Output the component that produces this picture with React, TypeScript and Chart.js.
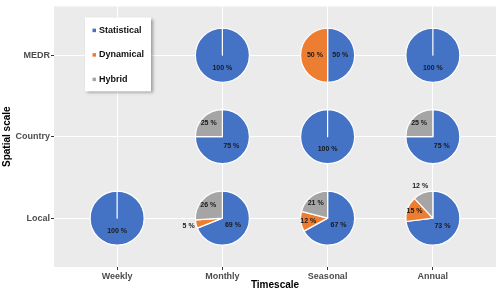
import React, { useEffect, useRef } from 'react';
import { Chart, registerables } from 'chart.js';
Chart.register(...registerables);

const timescales = ['Weekly', 'Monthly', 'Seasonal', 'Annual'];
const spatialScales = ['MEDR', 'Country', 'Local'];
const seriesNames = ['Statistical', 'Dynamical', 'Hybrid'];
const seriesColors = ['#4472C4', '#ED7D31', '#A5A5A5'];

const cellTimescale = ['Monthly', 'Seasonal', 'Annual', 'Monthly', 'Seasonal', 'Annual', 'Weekly', 'Monthly', 'Seasonal', 'Annual'];
const cellSpatial = ['MEDR', 'MEDR', 'MEDR', 'Country', 'Country', 'Country', 'Local', 'Local', 'Local', 'Local'];
const statistical = [100, 50, 100, 75, 100, 75, 100, 69, 67, 73];
const dynamical = [0, 50, 0, 0, 0, 0, 0, 5, 12, 15];
const hybrid = [0, 0, 0, 25, 0, 25, 0, 26, 21, 12];

// labels drawn outside the pie (Excel "best fit" placement)
const outsideLabels = ['Local|Monthly|Dynamical', 'Local|Annual|Hybrid'];

const FONT = '"Liberation Sans", Arial, sans-serif';
const PIE_R = 27;

const piePlugin = {
  id: 'pies',
  beforeDraw(chart: any) {
    const { ctx, chartArea } = chart;
    ctx.save();
    ctx.fillStyle = '#EBEBEB';
    ctx.fillRect(chartArea.left, chartArea.top, chartArea.right - chartArea.left, chartArea.bottom - chartArea.top);
    ctx.restore();
  },
  afterDatasetsDraw(chart: any) {
    const { ctx, scales, chartArea } = chart;
    const series = [statistical, dynamical, hybrid];
    ctx.save();
    for (let i = 0; i < cellTimescale.length; i++) {
      const cx = scales.x.getPixelForValue(timescales.indexOf(cellTimescale[i]) + 1);
      const cy = scales.y.getPixelForValue(spatialScales.indexOf(cellSpatial[i]) + 1);
      const total = series.reduce((s, arr) => s + arr[i], 0);
      let start = -Math.PI / 2;
      const labels: any[] = [];
      for (let s = 0; s < series.length; s++) {
        const v = series[s][i];
        if (!v) continue;
        const frac = v / total;
        const end = start + frac * Math.PI * 2;
        ctx.beginPath();
        ctx.moveTo(cx, cy);
        ctx.arc(cx, cy, PIE_R, start, end);
        ctx.closePath();
        ctx.fillStyle = seriesColors[s];
        ctx.fill();
        ctx.strokeStyle = '#FFFFFF';
        ctx.lineWidth = 1.2;
        ctx.lineJoin = 'round';
        ctx.stroke();
        const mid = (start + end) / 2;
        const key = cellSpatial[i] + '|' + cellTimescale[i] + '|' + seriesNames[s];
        let lr = frac >= 0.5 ? 0.47 : 0.72;
        if (outsideLabels.includes(key)) lr = 1.28;
        labels.push({ x: cx + Math.cos(mid) * PIE_R * lr, y: cy + Math.sin(mid) * PIE_R * lr, t: v + ' %' });
        start = end;
      }
      ctx.fillStyle = '#1A1A1A';
      ctx.font = 'bold 7px ' + FONT;
      ctx.textAlign = 'center';
      ctx.textBaseline = 'middle';
      labels.forEach((l) => ctx.fillText(l.t, l.x, l.y));
    }
    // legend
    const lx = chartArea.left + 31;
    const ly = chartArea.top + 11;
    const lw = 66;
    const lh = 74;
    ctx.save();
    ctx.shadowColor = 'rgba(0,0,0,0.35)';
    ctx.shadowBlur = 3;
    ctx.shadowOffsetX = 2;
    ctx.shadowOffsetY = 2;
    ctx.fillStyle = '#FFFFFF';
    ctx.fillRect(lx, ly, lw, lh);
    ctx.restore();
    ctx.font = 'bold 9px ' + FONT;
    ctx.textAlign = 'left';
    ctx.textBaseline = 'middle';
    seriesNames.forEach((n, k) => {
      const yy = ly + 13 + k * 24.5;
      ctx.fillStyle = seriesColors[k];
      ctx.fillRect(lx + 7.5, yy - 1.75, 3.5, 3.5);
      ctx.fillStyle = '#111111';
      ctx.fillText(n, lx + 14, yy);
    });
    ctx.restore();
  },
};

export default function App() {
  const ref = useRef<HTMLCanvasElement>(null);
  useEffect(() => {
    const points = cellTimescale.map((t, i) => ({
      x: timescales.indexOf(t) + 1,
      y: spatialScales.indexOf(cellSpatial[i]) + 1,
    }));
    const chart = new Chart(ref.current as HTMLCanvasElement, {
      type: 'scatter',
      data: { datasets: [{ label: 'cells', data: points, pointRadius: 0, pointHoverRadius: 0 }] },
      options: {
        responsive: false,
        animation: false,
        events: [],
        layout: { padding: { top: 4, right: 4, left: 0, bottom: 0 } },
        plugins: { legend: { display: false }, tooltip: { enabled: false } },
        scales: {
          x: {
            type: 'linear',
            min: 0.4,
            max: 4.6,
            afterBuildTicks: (s: any) => { s.ticks = timescales.map((_, i) => ({ value: i + 1 })); },
            afterFit: (s: any) => { s.height = 26; },
            ticks: {
              callback: (v: any) => timescales[v - 1],
              autoSkip: false,
              maxRotation: 0,
              padding: 1,
              color: '#4D4D4D',
              font: { family: FONT, size: 9, weight: 'bold' },
            },
            grid: { color: '#FFFFFF', lineWidth: 1, tickLength: 3, tickColor: '#333333', tickWidth: 1 },
            border: { display: false },
            title: {
              display: true,
              text: 'Timescale',
              color: '#000000',
              font: { family: FONT, size: 10, weight: 'bold' },
              padding: { top: 0, bottom: 1.5 },
            },
          },
          y: {
            type: 'linear',
            reverse: true,
            min: 0.4,
            max: 3.6,
            afterBuildTicks: (s: any) => { s.ticks = spatialScales.map((_, i) => ({ value: i + 1 })); },
            afterFit: (s: any) => { s.width = 54; },
            ticks: {
              callback: (v: any) => spatialScales[v - 1],
              autoSkip: false,
              padding: 1,
              color: '#4D4D4D',
              font: { family: FONT, size: 9, weight: 'bold' },
            },
            grid: { color: '#FFFFFF', lineWidth: 1, tickLength: 3, tickColor: '#333333', tickWidth: 1 },
            border: { display: false },
            title: {
              display: true,
              text: 'Spatial scale',
              color: '#000000',
              font: { family: FONT, size: 10, weight: 'bold' },
              padding: { top: 1.5, bottom: 0 },
            },
          },
        },
      },
      plugins: [piePlugin],
    } as any);
    return () => chart.destroy();
  }, []);
  return (
    <div style={{ position: 'fixed', left: 0, top: 0, width: 500, height: 293, background: '#FFFFFF' }}>
      <canvas ref={ref} width={500} height={293} style={{ width: 500, height: 293, display: 'block' }} />
    </div>
  );
}
